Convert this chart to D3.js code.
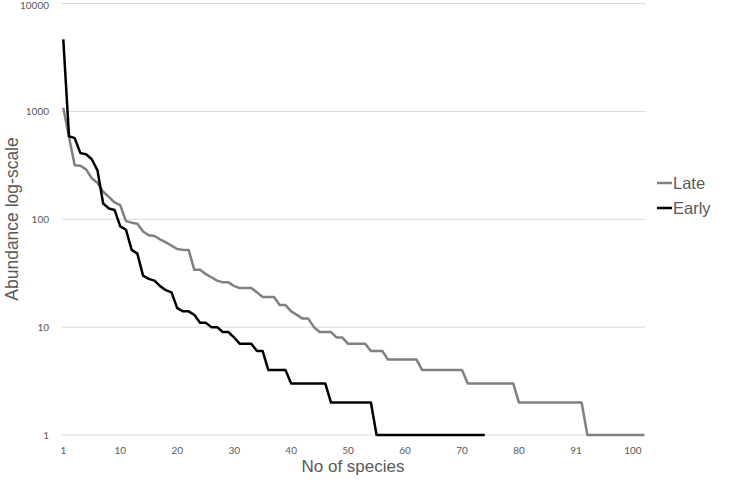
<!DOCTYPE html>
<html><head><meta charset="utf-8">
<script src="https://cdn.jsdelivr.net/npm/d3@7"></script>
<style>body{margin:0;background:#fff;} svg{display:block;}</style>
</head><body><svg id="c" width="729" height="481"></svg>
<script>
// ---- data ----
const seriesNames = ["Late", "Early"];
const seriesColors = ["#808080", "#000000"];
const lateValues = [
  1080,580,316,313,290,240,218,180,161,143,
  135,96,93,91,77,71,70,65,61,57,
  53,52,52,34,34,31,29,27,26,26,
  24,23,23,23,21,19,19,19,16,16,
  14,13,12,12,10,9,9,9,8,8,
  7,7,7,7,6,6,6,5,5,5,
  5,5,5,4,4,4,4,4,4,4,
  4,3,3,3,3,3,3,3,3,3,
  2,2,2,2,2,2,2,2,2,2,
  2,2,1,1,1,1,1,1,1,1,
  1,1,1
];
const earlyValues = [
  4650,590,565,410,400,360,284,140,126,122,
  86,80,52,48,30,28,27,24,22,21,
  15,14,14,13,11,11,10,10,9,9,
  8,7,7,7,6,6,4,4,4,4,
  3,3,3,3,3,3,3,2,2,2,
  2,2,2,2,2,1,1,1,1,1,
  1,1,1,1,1,1,1,1,1,1,
  1,1,1,1,1
];
const xTickIndex = [0,10,20,30,40,50,60,70,80,90,100];
const xTickLabels = ["1","10","20","30","40","50","60","70","80","91","100"];
const yTickValues = [1,10,100,1000,10000];
const yTickLabels = ["1","10","100","1000","10000"];
const xTitle = "No of species";
const yTitle = "Abundance log-scale";

// ---- layout ----
const svg = d3.select("#c");
const plot = {left: 63.3, right: 644.3, top: 3.5, bottom: 435};
const nCat = lateValues.length; // 103 categories

const x = d3.scaleLinear().domain([0, nCat - 1]).range([plot.left, plot.right]);
const y = d3.scaleLog().domain([1, 10000]).range([plot.bottom, plot.top]);

// gridlines
svg.append("g").selectAll("line").data(yTickValues).join("line")
  .attr("x1", plot.left - 2).attr("x2", plot.right + 1)
  .attr("y1", d => y(d)).attr("y2", d => y(d))
  .attr("stroke", "#d9d9d9").attr("stroke-width", 1);

// y tick labels
svg.append("g").selectAll("text").data(yTickValues).join("text")
  .attr("x", 49).attr("y", d => Math.max(y(d) + 3.5, 8.5))
  .attr("text-anchor", "end")
  .attr("font-family", "Lato, 'Open Sans', sans-serif").attr("font-size", 10)
  .attr("fill", "#595959")
  .text((d, i) => yTickLabels[i]);

// x tick labels
svg.append("g").selectAll("text").data(xTickIndex).join("text")
  .attr("x", d => x(d)).attr("y", 453.5)
  .attr("text-anchor", "middle")
  .attr("font-family", "Lato, 'Open Sans', sans-serif").attr("font-size", 10)
  .attr("fill", "#595959")
  .text((d, i) => xTickLabels[i]);

// lines
const line = d3.line().x((d, i) => x(i)).y(d => y(d));
[lateValues, earlyValues].forEach((vals, k) => {
  svg.append("path").datum(vals)
    .attr("d", line)
    .attr("fill", "none")
    .attr("stroke", seriesColors[k])
    .attr("stroke-width", 2.5)
    .attr("stroke-linejoin", "round");
});

// axis titles
svg.append("text")
  .attr("x", 353).attr("y", 471.5)
  .attr("text-anchor", "middle")
  .attr("font-family", "'Liberation Sans', Arial, sans-serif").attr("font-size", 17)
  .attr("fill", "#595959")
  .text(xTitle);
svg.append("text")
  .attr("transform", "translate(18,219) rotate(-90)")
  .attr("text-anchor", "middle")
  .attr("font-family", "'Liberation Sans', Arial, sans-serif").attr("font-size", 17.5)
  .attr("fill", "#595959")
  .text(yTitle);

// legend
const legendY = [183, 208];
seriesNames.forEach((name, k) => {
  svg.append("line")
    .attr("x1", 657).attr("x2", 672)
    .attr("y1", legendY[k]).attr("y2", legendY[k])
    .attr("stroke", seriesColors[k]).attr("stroke-width", 2.5);
  svg.append("text")
    .attr("x", 673).attr("y", legendY[k]).attr("dy", "0.35em")
    .attr("font-family", "'Liberation Sans', Arial, sans-serif").attr("font-size", 16.5)
    .attr("fill", "#595959")
    .text(name);
});
</script>
</body></html>
